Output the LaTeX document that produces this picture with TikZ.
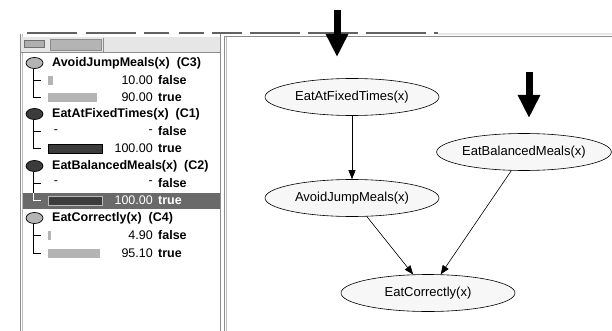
\documentclass[tikz,border=0pt]{standalone}
\usepackage{fontspec}
\setmainfont{Liberation Sans}
\usetikzlibrary{shapes.geometric,arrows.meta}
\definecolor{efill}{HTML}{F7F7F7}
\definecolor{lightbar}{HTML}{B4B4B4}
\definecolor{darkbar}{HTML}{3C3C3C}
\definecolor{hilite}{HTML}{6A6A6A}
\definecolor{tbar}{HTML}{E6E6E6}
\definecolor{frame}{HTML}{8C8C8C}
\tikzset{
  gnode/.style={ellipse, draw=black, line width=0.6pt, fill=efill, minimum width=174pt, minimum height=37pt, inner sep=0pt, font=\fontsize{13}{15}\selectfont},
  gedge/.style={draw=black, line width=0.6pt, -{Triangle[length=9pt,width=7pt]}},
  bigarrow/.style={draw=black, line width=7pt, -{Triangle[length=23pt,width=21pt]}},
  hdr/.style={anchor=west, inner sep=0pt, font=\fontsize{12.5}{14}\selectfont\bfseries},
  num/.style={anchor=east, inner sep=0pt, font=\fontsize{12.5}{14}\selectfont},
  lbl/.style={anchor=west, inner sep=0pt, font=\fontsize{12.5}{14}\selectfont\bfseries},
  dash1/.style={anchor=center, inner sep=0pt, font=\fontsize{12.5}{14}\selectfont},
  iconl/.style={ellipse, draw=black, line width=0.7pt, fill=lightbar, minimum width=17pt, minimum height=11pt, inner sep=0pt},
  icond/.style={ellipse, draw=black, line width=0.7pt, fill=darkbar, minimum width=17pt, minimum height=11pt, inner sep=0pt},
  tree/.style={draw=black, line width=0.6pt},
}
\begin{document}
\begin{tikzpicture}[x=1pt,y=-1pt]
\useasboundingbox (0,0) rectangle (612,331);
\fill[white] (0,0) rectangle (612,331);
% top frame lines
\draw[frame!70!black, line width=1.2pt, dash pattern=on 50pt off 9pt on 50pt off 8pt on 25pt off 10pt on 25pt off 8pt on 30pt off 8pt on 50pt off 8pt on 50pt off 8pt on 60pt off 8pt] (27,33) -- (438,33);
\draw[tbar, line width=2pt] (438,34) -- (612,34);
\draw[frame, line width=1pt] (224,37) -- (612,37);
% left panel
\draw[frame, line width=1pt] (20,34) -- (20,331);
\draw[frame!60, line width=1pt] (22,34) -- (22,331);
\draw[frame, line width=1pt] (220.5,34) -- (220.5,331);
\fill[tbar] (21,37) rectangle (220,52);
\draw[frame, line width=0.8pt] (21,52.5) -- (220,52.5);
\draw[frame!80!black, fill=frame!70, line width=0.8pt] (24,40) rectangle (44,47);
\draw[frame, fill=lightbar, line width=0.8pt] (50,39) rectangle (101,50);
\draw[frame, line width=0.8pt] (103,38) -- (103,52);
% right panel frame
\draw[frame, line width=1pt] (224,37) -- (224,331);
\draw[frame!60, line width=1pt] (226.5,37) -- (226.5,331);
% highlight row
\fill[hilite] (22.5,193) rectangle (219.5,209);
% ---- AvoidJumpMeals (C3)
\node[iconl] (i1) at (34.5,63) {};
\node[hdr] (h1) at (52,63) {AvoidJumpMeals(x)\ \ (C3)};
\draw[tree] (33,69) -- (33,97) -- (41,97);
\draw[tree] (33,80) -- (41,80);
\fill[lightbar] (48,76) rectangle (53,85);
\node[num] (n1a) at (153,80) {10.00};
\node[lbl] (l1a) at (158,80) {false};
\fill[lightbar] (48,93) rectangle (97,102);
\node[num] (n1b) at (153,97) {90.00};
\node[lbl] (l1b) at (158,97) {true};
% ---- EatAtFixedTimes (C1)
\node[icond] (i2) at (34.5,114) {};
\node[hdr] (h2) at (52,114) {EatAtFixedTimes(x)\ \ (C1)};
\draw[tree] (33,120) -- (33,148.5) -- (41,148.5);
\draw[tree] (33,131.5) -- (41,131.5);
\node[dash1] (d2a) at (56,131.5) {-};
\node[num] (n2a) at (153,131.5) {-};
\node[lbl] (l2a) at (158,131.5) {false};
\draw[black, fill=darkbar, line width=0.6pt] (48,144) rectangle (102,153);
\node[num] (n2b) at (153,148.5) {100.00};
\node[lbl] (l2b) at (158,148.5) {true};
% ---- EatBalancedMeals (C2)
\node[icond] (i3) at (34.5,166) {};
\node[hdr] (h3) at (52,166) {EatBalancedMeals(x)\ \ (C2)};
\draw[tree] (33,172) -- (33,183) -- (41,183);
\draw[tree, white] (33,193) -- (33,200.5) -- (41,200.5);
\draw[tree] (33,183) -- (33,193);
\node[dash1] (d3a) at (56,183) {-};
\node[num] (n3a) at (153,183) {-};
\node[lbl] (l3a) at (158,183) {false};
\draw[frame!60, fill=darkbar, line width=0.6pt] (48,196) rectangle (102,205);
\node[num, text=white] (n3b) at (153,200.5) {100.00};
\node[lbl, text=white] (l3b) at (158,200.5) {true};
% ---- EatCorrectly (C4)
\node[iconl] (i4) at (34.5,218) {};
\node[hdr] (h4) at (52,218) {EatCorrectly(x)\ \ (C4)};
\draw[tree] (33,224) -- (33,253) -- (41,253);
\draw[tree] (33,235.5) -- (41,235.5);
\fill[lightbar] (48,231) rectangle (50.5,240);
\node[num] (n4a) at (153,235.5) {4.90};
\node[lbl] (l4a) at (158,235.5) {false};
\fill[lightbar] (48,248.5) rectangle (100,257.5);
\node[num] (n4b) at (153,253) {95.10};
\node[lbl] (l4b) at (158,253) {true};
% ---- graph
\node[gnode] (fixed) at (352,97) {EatAtFixedTimes(x)};
\node[gnode] (avoid) at (352,198) {AvoidJumpMeals(x)};
\node[gnode] (bal) at (524,152) {EatBalancedMeals(x)};
\node[gnode] (corr) at (428,293) {EatCorrectly(x)};
\draw[gedge] (fixed) -- (avoid);
\draw[gedge] (avoid) -- (corr);
\draw[gedge] (bal) -- (corr);
% evidence arrows
\coordinate (a1s) at (337,10);
\coordinate (a1e) at (337,57);
\coordinate (a2s) at (529,72);
\coordinate (a2e) at (529,118);
\draw[bigarrow] (a1s) -- (a1e);
\draw[bigarrow] (a2s) -- (a2e);
\end{tikzpicture}
\end{document}
